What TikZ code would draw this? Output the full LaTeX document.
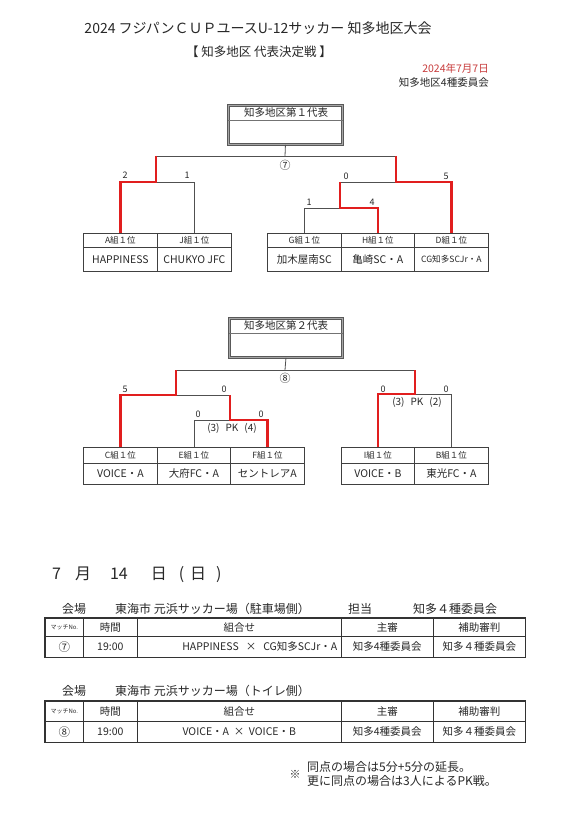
\documentclass[tikz,border=0pt]{standalone}
\usepackage{fontspec}
\setmainfont{Noto Sans CJK JP}
\definecolor{winred}{RGB}{225,30,30}
\definecolor{datered}{RGB}{200,60,60}
\definecolor{wire}{RGB}{80,80,80}
\definecolor{ink}{RGB}{40,40,40}
\newcommand{\fs}[1]{\fontsize{#1}{#1}\selectfont}
\begin{document}
\begin{tikzpicture}[x=1pt,y=-1pt,
  every node/.style={text=ink},
  brk/.style={draw=wire, line width=0.8pt},
  win/.style={draw=winred, line width=2.4pt, line join=miter},
  repbox/.style={draw=black!65, line width=0.9pt, double=black!35, double distance=1.1pt, inner sep=0pt, anchor=north west},
  labcell/.style={draw=black!75, line width=0.8pt, inner sep=0pt, anchor=north west, font=\fs{8.5}},
  namecell/.style={draw=black!75, line width=0.8pt, inner sep=0pt, anchor=north west, font=\fs{10.5}},
  score/.style={font=\fs{9}, inner sep=0pt},
  pk/.style={font=\fs{10}, inner sep=0pt},
  tcell/.style={draw=black!80, line width=0.6pt, inner sep=0pt, anchor=north west, font=\fs{10.5}},
  txt/.style={font=\fs{12}, inner sep=0pt}
]
\useasboundingbox (0,0) rectangle (577,813);
\fill[white] (0,0) rectangle (577,813);

% ---------- header
\node[font=\fs{14}] (title) at (258,28) {2024 フジパンＣＵＰユースU-12サッカー 知多地区大会};
\node[font=\fs{12.5}] (sub) at (259,52) {【 知多地区 代表決定戦 】};
\node[anchor=east, text=datered, font=\fs{10.5}, inner sep=0pt] (date) at (489,68) {2024年7月7日};
\node[anchor=east, font=\fs{10.5}, inner sep=0pt] (org) at (489,83) {知多地区4種委員会};

% ---------- bracket 1
\node[repbox, minimum width=114pt, minimum height=39pt] (rep1) at (228,105) {};
\draw[draw=black!55, line width=0.6pt] (rep1.west |- 0,120) -- (rep1.east |- 0,120);
\node[font=\fs{10.5}, inner sep=0pt] (rep1t) at (286,112.5) {知多地区第１代表};

\node[labcell, minimum width=74pt, minimum height=14pt] (A1) at (83,233) {A組１位};
\node[namecell, minimum width=74pt, minimum height=24pt] (A2) at (83,247) {HAPPINESS};
\node[labcell, minimum width=74pt, minimum height=14pt] (J1) at (157,233) {J組１位};
\node[namecell, minimum width=74pt, minimum height=24pt] (J2) at (157,247) {CHUKYO JFC};
\node[labcell, minimum width=74pt, minimum height=14pt] (G1) at (267,233) {G組１位};
\node[namecell, minimum width=74pt, minimum height=24pt] (G2) at (267,247) {加木屋南SC};
\node[labcell, minimum width=73pt, minimum height=14pt] (H1) at (341,233) {H組１位};
\node[namecell, minimum width=73pt, minimum height=24pt] (H2) at (341,247) {亀崎SC・A};
\node[labcell, minimum width=74pt, minimum height=14pt] (D1) at (414,233) {D組１位};
\node[namecell, minimum width=74pt, minimum height=24pt, font=\fs{8.6}] (D2) at (414,247) {CG知多SCJr・A};

\coordinate (c1) at (285,156);
\coordinate (t1L) at (156,156);
\coordinate (t1R) at (396,156);
\coordinate (j1) at (156,182);
\coordinate (j2) at (396,182);
\coordinate (s1) at (340,182);
\coordinate (j3) at (340,208);

\draw[brk] (rep1.south) -- (c1);
\draw[brk] (t1L) -- (t1R);
\draw[brk] (j1) -- (J1.north |- j1) -- (J1.north);
\draw[brk] (s1) -- (j2);
\draw[brk] (j3) -- (G1.north |- j3) -- (G1.north);
\draw[win] (t1L) -- (j1) -- (A1.north |- j1) -- (A1.north);
\draw[win] (t1R) -- (j2) -- (D1.north |- j2) -- (D1.north);
\draw[win] (s1) -- (j3) -- (H1.north |- j3) -- (H1.north);

\node[font=\fs{11}, inner sep=0pt] (m7) at (285,165) {⑦};
\node[score] (sA) at (125,175) {2};
\node[score] (sJ) at (187,175) {1};
\node[score] (sGH) at (346,176) {0};
\node[score] (sD) at (446,176) {5};
\node[score] (sG) at (309,202) {1};
\node[score] (sH) at (372,202) {4};

% ---------- bracket 2
\node[repbox, minimum width=113pt, minimum height=39pt] (rep2) at (229,318) {};
\draw[draw=black!55, line width=0.6pt] (rep2.west |- 0,333) -- (rep2.east |- 0,333);
\node[font=\fs{10.5}, inner sep=0pt] (rep2t) at (286,325.5) {知多地区第２代表};

\node[labcell, minimum width=74pt, minimum height=16pt] (C1) at (83,447) {C組１位};
\node[namecell, minimum width=74pt, minimum height=21pt] (C2) at (83,463) {VOICE・A};
\node[labcell, minimum width=73pt, minimum height=16pt] (E1) at (157,447) {E組１位};
\node[namecell, minimum width=73pt, minimum height=21pt] (E2) at (157,463) {大府FC・A};
\node[labcell, minimum width=74pt, minimum height=16pt] (F1) at (230,447) {F組１位};
\node[namecell, minimum width=74pt, minimum height=21pt] (F2) at (230,463) {セントレアA};
\node[labcell, minimum width=73pt, minimum height=16pt] (I1) at (341,447) {I組１位};
\node[namecell, minimum width=73pt, minimum height=21pt] (I2) at (341,463) {VOICE・B};
\node[labcell, minimum width=74pt, minimum height=16pt] (B1) at (414,447) {B組１位};
\node[namecell, minimum width=74pt, minimum height=21pt] (B2) at (414,463) {東光FC・A};

\coordinate (c2) at (285,370);
\coordinate (t2L) at (176,370);
\coordinate (t2R) at (415,370);
\coordinate (k1) at (176,395);
\coordinate (k2) at (230,395);
\coordinate (k3) at (230,420);
\coordinate (k4) at (415,394);

\draw[brk] (rep2.south) -- (c2);
\draw[brk] (t2L) -- (t2R);
\draw[brk] (k1) -- (k2);
\draw[brk] (k3) -- (E1.north |- k3) -- (E1.north);
\draw[brk] (k4) -- (B1.north |- k4) -- (B1.north);
\draw[win] (t2L) -- (k1) -- (C1.north |- k1) -- (C1.north);
\draw[win] (k2) -- (k3) -- (F1.north |- k3) -- (F1.north);
\draw[win] (t2R) -- (k4) -- (I1.north |- k4) -- (I1.north);

\node[font=\fs{11}, inner sep=0pt] (m8) at (285,378) {⑧};
\node[score] (sC) at (125,389) {5};
\node[score] (sEF) at (224,389) {0};
\node[score] (sE) at (198,414) {0};
\node[score] (sF) at (261,414) {0};
\node[pk] (pk1) at (232,428) {(3)\hspace{6pt}PK\hspace{6pt}(4)};
\node[score] (sI) at (383,389) {0};
\node[score] (sB) at (446,389) {0};
\node[pk] (pk2) at (417,402) {(3)\hspace{6pt}PK\hspace{6pt}(2)};

% ---------- schedule
\node[anchor=west, font=\fs{16}, inner sep=0pt] (day) at (52,575) {7\hspace{14pt}月\hspace{19pt}14\hspace{23pt}日\hspace{12pt}(\hspace{6pt}日\hspace{10pt})};

\node[txt] (v1a) at (74,609) {会場};
\node[txt, anchor=west] (v1b) at (115,609) {東海市 元浜サッカー場（駐車場側）};
\node[txt, anchor=west] (v1c) at (348,609) {担当};
\node[txt, anchor=west] (v1d) at (413,609) {知多４種委員会};

\node[tcell, minimum width=38pt, minimum height=18pt, font=\fs{6}] (h1a) at (45,618) {マッチNo.};
\node[tcell, minimum width=54pt, minimum height=18pt] (h1b) at (83,618) {時間};
\node[tcell, minimum width=204pt, minimum height=18pt] (h1c) at (137,618) {組合せ};
\node[tcell, minimum width=92pt, minimum height=18pt] (h1d) at (341,618) {主審};
\node[tcell, minimum width=92pt, minimum height=18pt] (h1e) at (433,618) {補助審判};
\node[tcell, minimum width=38pt, minimum height=21pt, font=\fs{11.5}] (r1a) at (45,636) {⑦};
\node[tcell, minimum width=54pt, minimum height=21pt] (r1b) at (83,636) {19:00};
\node[tcell, minimum width=204pt, minimum height=21pt, text width=196pt, align=right] (r1c) at (137,636) {HAPPINESS\ \ ×\ \ CG知多SCJr・A};
\node[tcell, minimum width=92pt, minimum height=21pt] (r1d) at (341,636) {知多4種委員会};
\node[tcell, minimum width=92pt, minimum height=21pt] (r1e) at (433,636) {知多４種委員会};
\draw[black!80, line width=1.2pt] (h1a.north west) rectangle (r1e.south east);

\node[txt] (v2a) at (74,691) {会場};
\node[txt, anchor=west] (v2b) at (115,691) {東海市 元浜サッカー場（トイレ側）};

\node[tcell, minimum width=38pt, minimum height=20pt, font=\fs{6}] (h2a) at (45,701) {マッチNo.};
\node[tcell, minimum width=54pt, minimum height=20pt] (h2b) at (83,701) {時間};
\node[tcell, minimum width=204pt, minimum height=20pt] (h2c) at (137,701) {組合せ};
\node[tcell, minimum width=92pt, minimum height=20pt] (h2d) at (341,701) {主審};
\node[tcell, minimum width=92pt, minimum height=20pt] (h2e) at (433,701) {補助審判};
\node[tcell, minimum width=38pt, minimum height=21pt, font=\fs{11.5}] (r2a) at (45,721) {⑧};
\node[tcell, minimum width=54pt, minimum height=21pt] (r2b) at (83,721) {19:00};
\node[tcell, minimum width=204pt, minimum height=21pt] (r2c) at (137,721) {VOICE・A\ \ ×\ \ VOICE・B};
\node[tcell, minimum width=92pt, minimum height=21pt] (r2d) at (341,721) {知多4種委員会};
\node[tcell, minimum width=92pt, minimum height=21pt] (r2e) at (433,721) {知多４種委員会};
\draw[black!80, line width=1.2pt] (h2a.north west) rectangle (r2e.south east);

% ---------- note
\node[font=\fs{11}, inner sep=0pt] (kome) at (295,774) {※};
\node[anchor=west, font=\fs{12}, inner sep=0pt] (n1) at (307,767) {同点の場合は5分+5分の延長。};
\node[anchor=west, font=\fs{12}, inner sep=0pt] (n2) at (307,781) {更に同点の場合は3人によるPK戦。};
\end{tikzpicture}
\end{document}
